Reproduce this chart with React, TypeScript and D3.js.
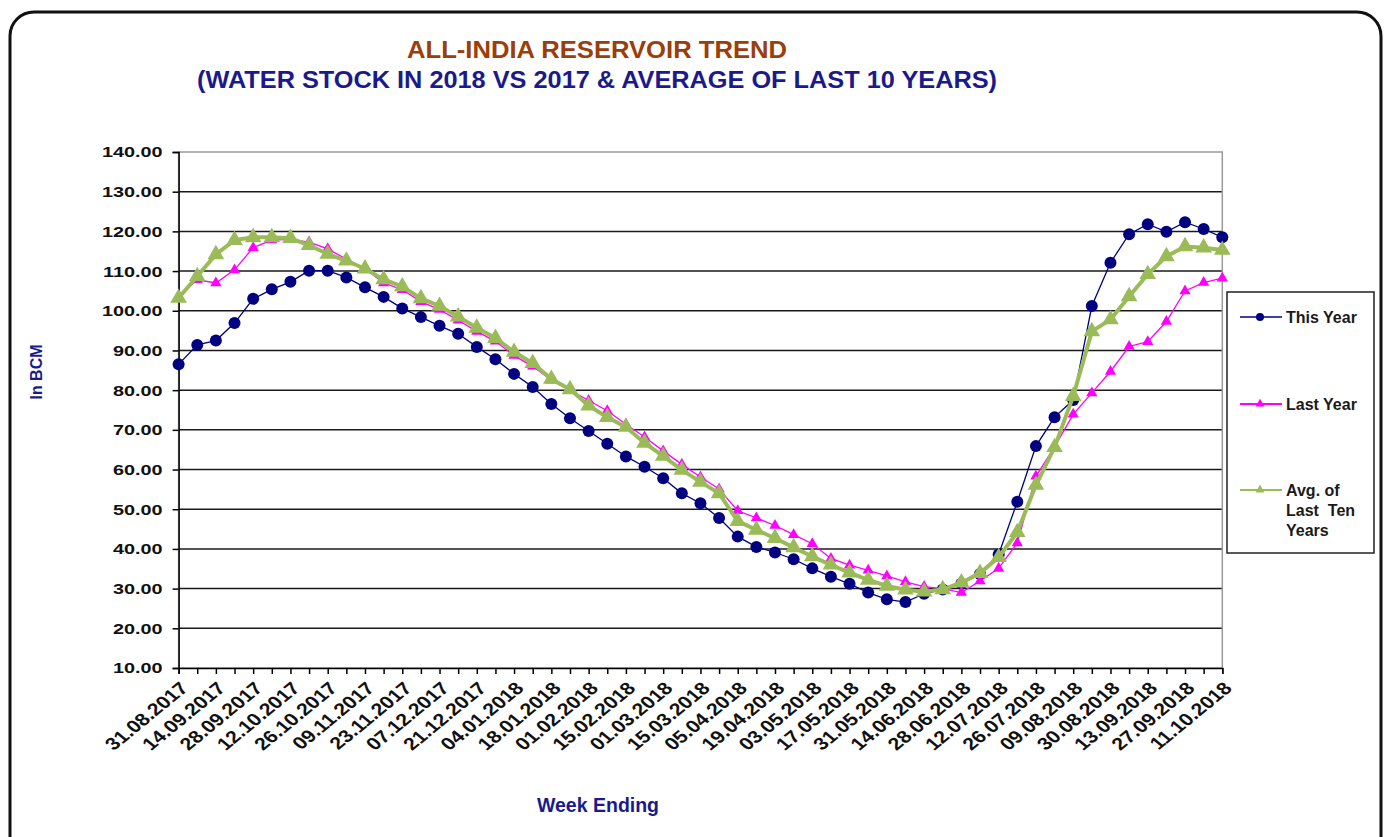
import React, { useEffect, useRef } from 'react';
import * as d3 from 'd3';

// Week ending dates (one category per reported week)
const weeks = [
  '31.08.2017', '07.09.2017', '14.09.2017', '21.09.2017', '28.09.2017', '05.10.2017',
  '12.10.2017', '19.10.2017', '26.10.2017', '02.11.2017', '09.11.2017', '16.11.2017',
  '23.11.2017', '30.11.2017', '07.12.2017', '14.12.2017', '21.12.2017', '28.12.2017',
  '04.01.2018', '11.01.2018', '18.01.2018', '25.01.2018', '01.02.2018', '08.02.2018',
  '15.02.2018', '22.02.2018', '01.03.2018', '08.03.2018', '15.03.2018', '22.03.2018',
  '05.04.2018', '12.04.2018', '19.04.2018', '26.04.2018', '03.05.2018', '10.05.2018',
  '17.05.2018', '24.05.2018', '31.05.2018', '07.06.2018', '14.06.2018', '21.06.2018',
  '28.06.2018', '05.07.2018', '12.07.2018', '19.07.2018', '26.07.2018', '02.08.2018',
  '09.08.2018', '23.08.2018', '30.08.2018', '06.09.2018', '13.09.2018', '20.09.2018',
  '27.09.2018', '04.10.2018', '11.10.2018',
];

const thisYear = [
  86.5, 91.4, 92.5, 96.9, 103.0, 105.4, 107.3, 110.1, 110.1, 108.4, 105.9, 103.5,
  100.6, 98.4, 96.2, 94.2, 90.9, 87.8, 84.1, 80.8, 76.5, 72.9, 69.7, 66.5,
  63.3, 60.7, 57.8, 54.0, 51.5, 47.8, 43.1, 40.5, 39.1, 37.4, 35.1, 33.0,
  31.2, 29.0, 27.3, 26.6, 28.7, 29.8, 31.2, 33.7, 38.6, 51.9, 65.9, 73.2,
  77.5, 101.2, 112.1, 119.3, 121.8, 119.9, 122.3, 120.6, 118.5,
];

const lastYear = [
  103.5, 107.8, 107.0, 110.3, 115.9, 117.8, 118.0, 117.3, 115.6, 113.0, 110.6, 107.0,
  105.3, 102.3, 100.3, 97.6, 94.8, 92.3, 88.7, 86.0, 82.5, 80.0, 77.4, 74.8,
  71.4, 68.2, 64.7, 61.3, 58.1, 55.1, 49.6, 47.8, 45.9, 43.6, 41.3, 37.6,
  35.9, 34.6, 33.2, 31.7, 30.5, 30.0, 29.0, 31.9, 35.1, 41.5, 58.3, 65.7,
  73.9, 79.3, 84.7, 91.0, 92.2, 97.3, 105.0, 107.1, 108.2,
];

const avgTenYears = [
  103.2, 108.7, 114.2, 117.8, 118.5, 118.5, 118.3, 116.5, 114.3, 112.6, 110.6, 107.9,
  106.1, 103.1, 101.2, 98.5, 95.7, 93.1, 89.6, 86.8, 82.8, 80.2, 76.1, 73.2,
  70.7, 66.7, 63.4, 59.9, 56.9, 54.0, 47.0, 44.8, 42.7, 40.4, 38.1, 36.0,
  34.0, 32.2, 30.7, 29.7, 29.2, 29.8, 31.5, 33.9, 37.9, 44.2, 56.1, 65.6,
  78.5, 94.8, 97.8, 103.6, 109.2, 113.7, 116.2, 115.9, 115.3,
];

const yTicks = [10, 20, 30, 40, 50, 60, 70, 80, 90, 100, 110, 120, 130, 140];

const ARIAL = "'Liberation Sans', Arial, sans-serif";
const NAVY = '#1a1a8c';
const STRETCH = 1.28; // tick labels in the source are drawn wide

const App = () => {
  const svgRef = useRef<SVGSVGElement>(null);

  useEffect(() => {
    const svg = d3.select(svgRef.current);
    svg.selectAll('*').remove();

    const plot = { left: 178.6, right: 1222.3, top: 152, bottom: 668 };

    const x = d3.scalePoint<string>().domain(weeks).range([plot.left, plot.right]);
    const y = d3.scaleLinear().domain([10, 140]).range([plot.bottom, plot.top]);

    // Outer rounded frame
    svg.append('rect')
      .attr('x', 10).attr('y', 12)
      .attr('width', 1371).attr('height', 880)
      .attr('rx', 24)
      .attr('fill', '#fff')
      .attr('stroke', '#111')
      .attr('stroke-width', 3);

    // Titles
    svg.append('text')
      .attr('x', 597).attr('y', 58)
      .attr('text-anchor', 'middle')
      .attr('font-family', ARIAL).attr('font-weight', 'bold').attr('font-size', 24)
      .attr('fill', '#9c3d0c')
      .attr('textLength', 380).attr('lengthAdjust', 'spacingAndGlyphs')
      .text('ALL-INDIA RESERVOIR TREND');

    svg.append('text')
      .attr('x', 597).attr('y', 88)
      .attr('text-anchor', 'middle')
      .attr('font-family', ARIAL).attr('font-weight', 'bold').attr('font-size', 24)
      .attr('fill', NAVY)
      .attr('textLength', 800).attr('lengthAdjust', 'spacingAndGlyphs')
      .text('(WATER STOCK IN 2018 VS 2017 & AVERAGE OF LAST 10 YEARS)');

    // Horizontal grid lines
    svg.append('g')
      .selectAll('line')
      .data(yTicks.filter(t => t > 10 && t < 140))
      .join('line')
      .attr('x1', plot.left).attr('x2', plot.right)
      .attr('y1', d => y(d)).attr('y2', d => y(d))
      .attr('stroke', '#1a1a1a')
      .attr('stroke-width', 1.5);

    // Plot area border
    svg.append('rect')
      .attr('x', plot.left).attr('y', plot.top)
      .attr('width', plot.right - plot.left).attr('height', plot.bottom - plot.top)
      .attr('fill', 'none')
      .attr('stroke', '#9a9a9a')
      .attr('stroke-width', 1.5);

    // Y axis
    const yAxis = svg.append('g')
      .attr('transform', `translate(${plot.left},0)`)
      .call(d3.axisLeft(y).tickValues(yTicks).tickFormat(d3.format('.2f')).tickSize(6).tickPadding(10));
    yAxis.select('.domain').attr('stroke', '#000').attr('stroke-width', 1.5);
    yAxis.selectAll('.tick line').attr('stroke', '#000').attr('stroke-width', 1.5);
    yAxis.selectAll('.tick text')
      .attr('x', null)
      .attr('transform', `translate(-16,0) scale(${STRETCH},1)`)
      .attr('font-family', ARIAL).attr('font-weight', 'bold').attr('font-size', 15.5)
      .attr('fill', '#111');

    // X axis
    const xAxis = svg.append('g')
      .attr('transform', `translate(0,${plot.bottom})`)
      .call(d3.axisBottom(x).tickSize(6).tickFormat((d, i) => (i % 2 === 0 ? d : '')));
    xAxis.select('.domain').attr('stroke', '#000').attr('stroke-width', 1.5);
    xAxis.selectAll('.tick line').attr('stroke', '#000').attr('stroke-width', 1.5);
    xAxis.selectAll('.tick text')
      .attr('x', 0).attr('y', 0).attr('dy', '0.35em')
      .attr('text-anchor', 'end')
      .attr('transform', 'translate(5,17) scale(1.22,1) rotate(-45)')
      .attr('font-family', ARIAL).attr('font-weight', 'bold').attr('font-size', 17.5)
      .attr('fill', '#111');

    // Axis titles
    svg.append('text')
      .attr('transform', 'translate(42,372) rotate(-90)')
      .attr('text-anchor', 'middle')
      .attr('font-family', ARIAL).attr('font-weight', 'bold').attr('font-size', 16)
      .attr('fill', NAVY)
      .text('In BCM');

    svg.append('text')
      .attr('x', 598).attr('y', 812)
      .attr('text-anchor', 'middle')
      .attr('font-family', ARIAL).attr('font-weight', 'bold').attr('font-size', 19.5)
      .attr('fill', NAVY)
      .text('Week Ending');

    // Series
    const line = d3.line<number>()
      .x((d, i) => x(weeks[i]) as number)
      .y(d => y(d));

    const tri = (size: number) => d3.symbol().type(d3.symbolTriangle).size(size)();

    // This Year
    svg.append('path')
      .datum(thisYear)
      .attr('fill', 'none')
      .attr('stroke', '#000080')
      .attr('stroke-width', 1.3)
      .attr('d', line);
    svg.append('g')
      .selectAll('circle')
      .data(thisYear)
      .join('circle')
      .attr('cx', (d, i) => x(weeks[i]) as number)
      .attr('cy', d => y(d))
      .attr('r', 6)
      .attr('fill', '#000080');

    // Last Year
    svg.append('path')
      .datum(lastYear)
      .attr('fill', 'none')
      .attr('stroke', '#ff00ff')
      .attr('stroke-width', 1.3)
      .attr('d', line);
    svg.append('g')
      .selectAll('path')
      .data(lastYear)
      .join('path')
      .attr('transform', (d, i) => `translate(${x(weeks[i])},${y(d)})`)
      .attr('d', tri(55))
      .attr('fill', '#ff00ff');

    // Avg of last ten years
    svg.append('path')
      .datum(avgTenYears)
      .attr('fill', 'none')
      .attr('stroke', '#9bbb59')
      .attr('stroke-width', 4)
      .attr('d', line);
    svg.append('g')
      .selectAll('path')
      .data(avgTenYears)
      .join('path')
      .attr('transform', (d, i) => `translate(${x(weeks[i])},${y(d)})`)
      .attr('d', tri(120))
      .attr('fill', '#9bbb59');

    // Legend
    const legend = svg.append('g');
    legend.append('rect')
      .attr('x', 1227).attr('y', 292)
      .attr('width', 147).attr('height', 261)
      .attr('fill', '#fff')
      .attr('stroke', '#222')
      .attr('stroke-width', 1.5);

    const legendItems = [
      { lines: ['This Year'], color: '#000080', y: 317, marker: 'circle' },
      { lines: ['Last Year'], color: '#ff00ff', y: 404, marker: 'tri' },
      { lines: ['Avg. of', 'Last  Ten', 'Years'], color: '#9bbb59', y: 490, marker: 'tri' },
    ];

    legendItems.forEach(item => {
      const g = legend.append('g').attr('transform', `translate(0,${item.y})`);
      g.append('line')
        .attr('x1', 1240).attr('x2', 1282)
        .attr('y1', 0).attr('y2', 0)
        .attr('stroke', item.color)
        .attr('stroke-width', item.marker === 'circle' ? 1.3 : 1.8);
      if (item.marker === 'circle') {
        g.append('circle').attr('cx', 1260).attr('cy', 0).attr('r', 4).attr('fill', item.color);
      } else {
        g.append('path').attr('transform', 'translate(1260,0)').attr('d', tri(35)).attr('fill', item.color);
      }
      item.lines.forEach((t, i) => {
        g.append('text')
          .attr('x', 1286).attr('y', i * 20)
          .attr('dy', '0.35em')
          .attr('font-family', ARIAL).attr('font-weight', 'bold').attr('font-size', 16)
          .attr('fill', '#1a1a1a')
          .style('white-space', 'pre')
          .text(t);
      });
    });
  }, []);

  return (
    <div style={{ position: 'fixed', left: 0, top: 0, width: 1386, height: 837, background: '#fff' }}>
      <svg ref={svgRef} width={1386} height={837} style={{ display: 'block' }} />
    </div>
  );
};

export default App;
